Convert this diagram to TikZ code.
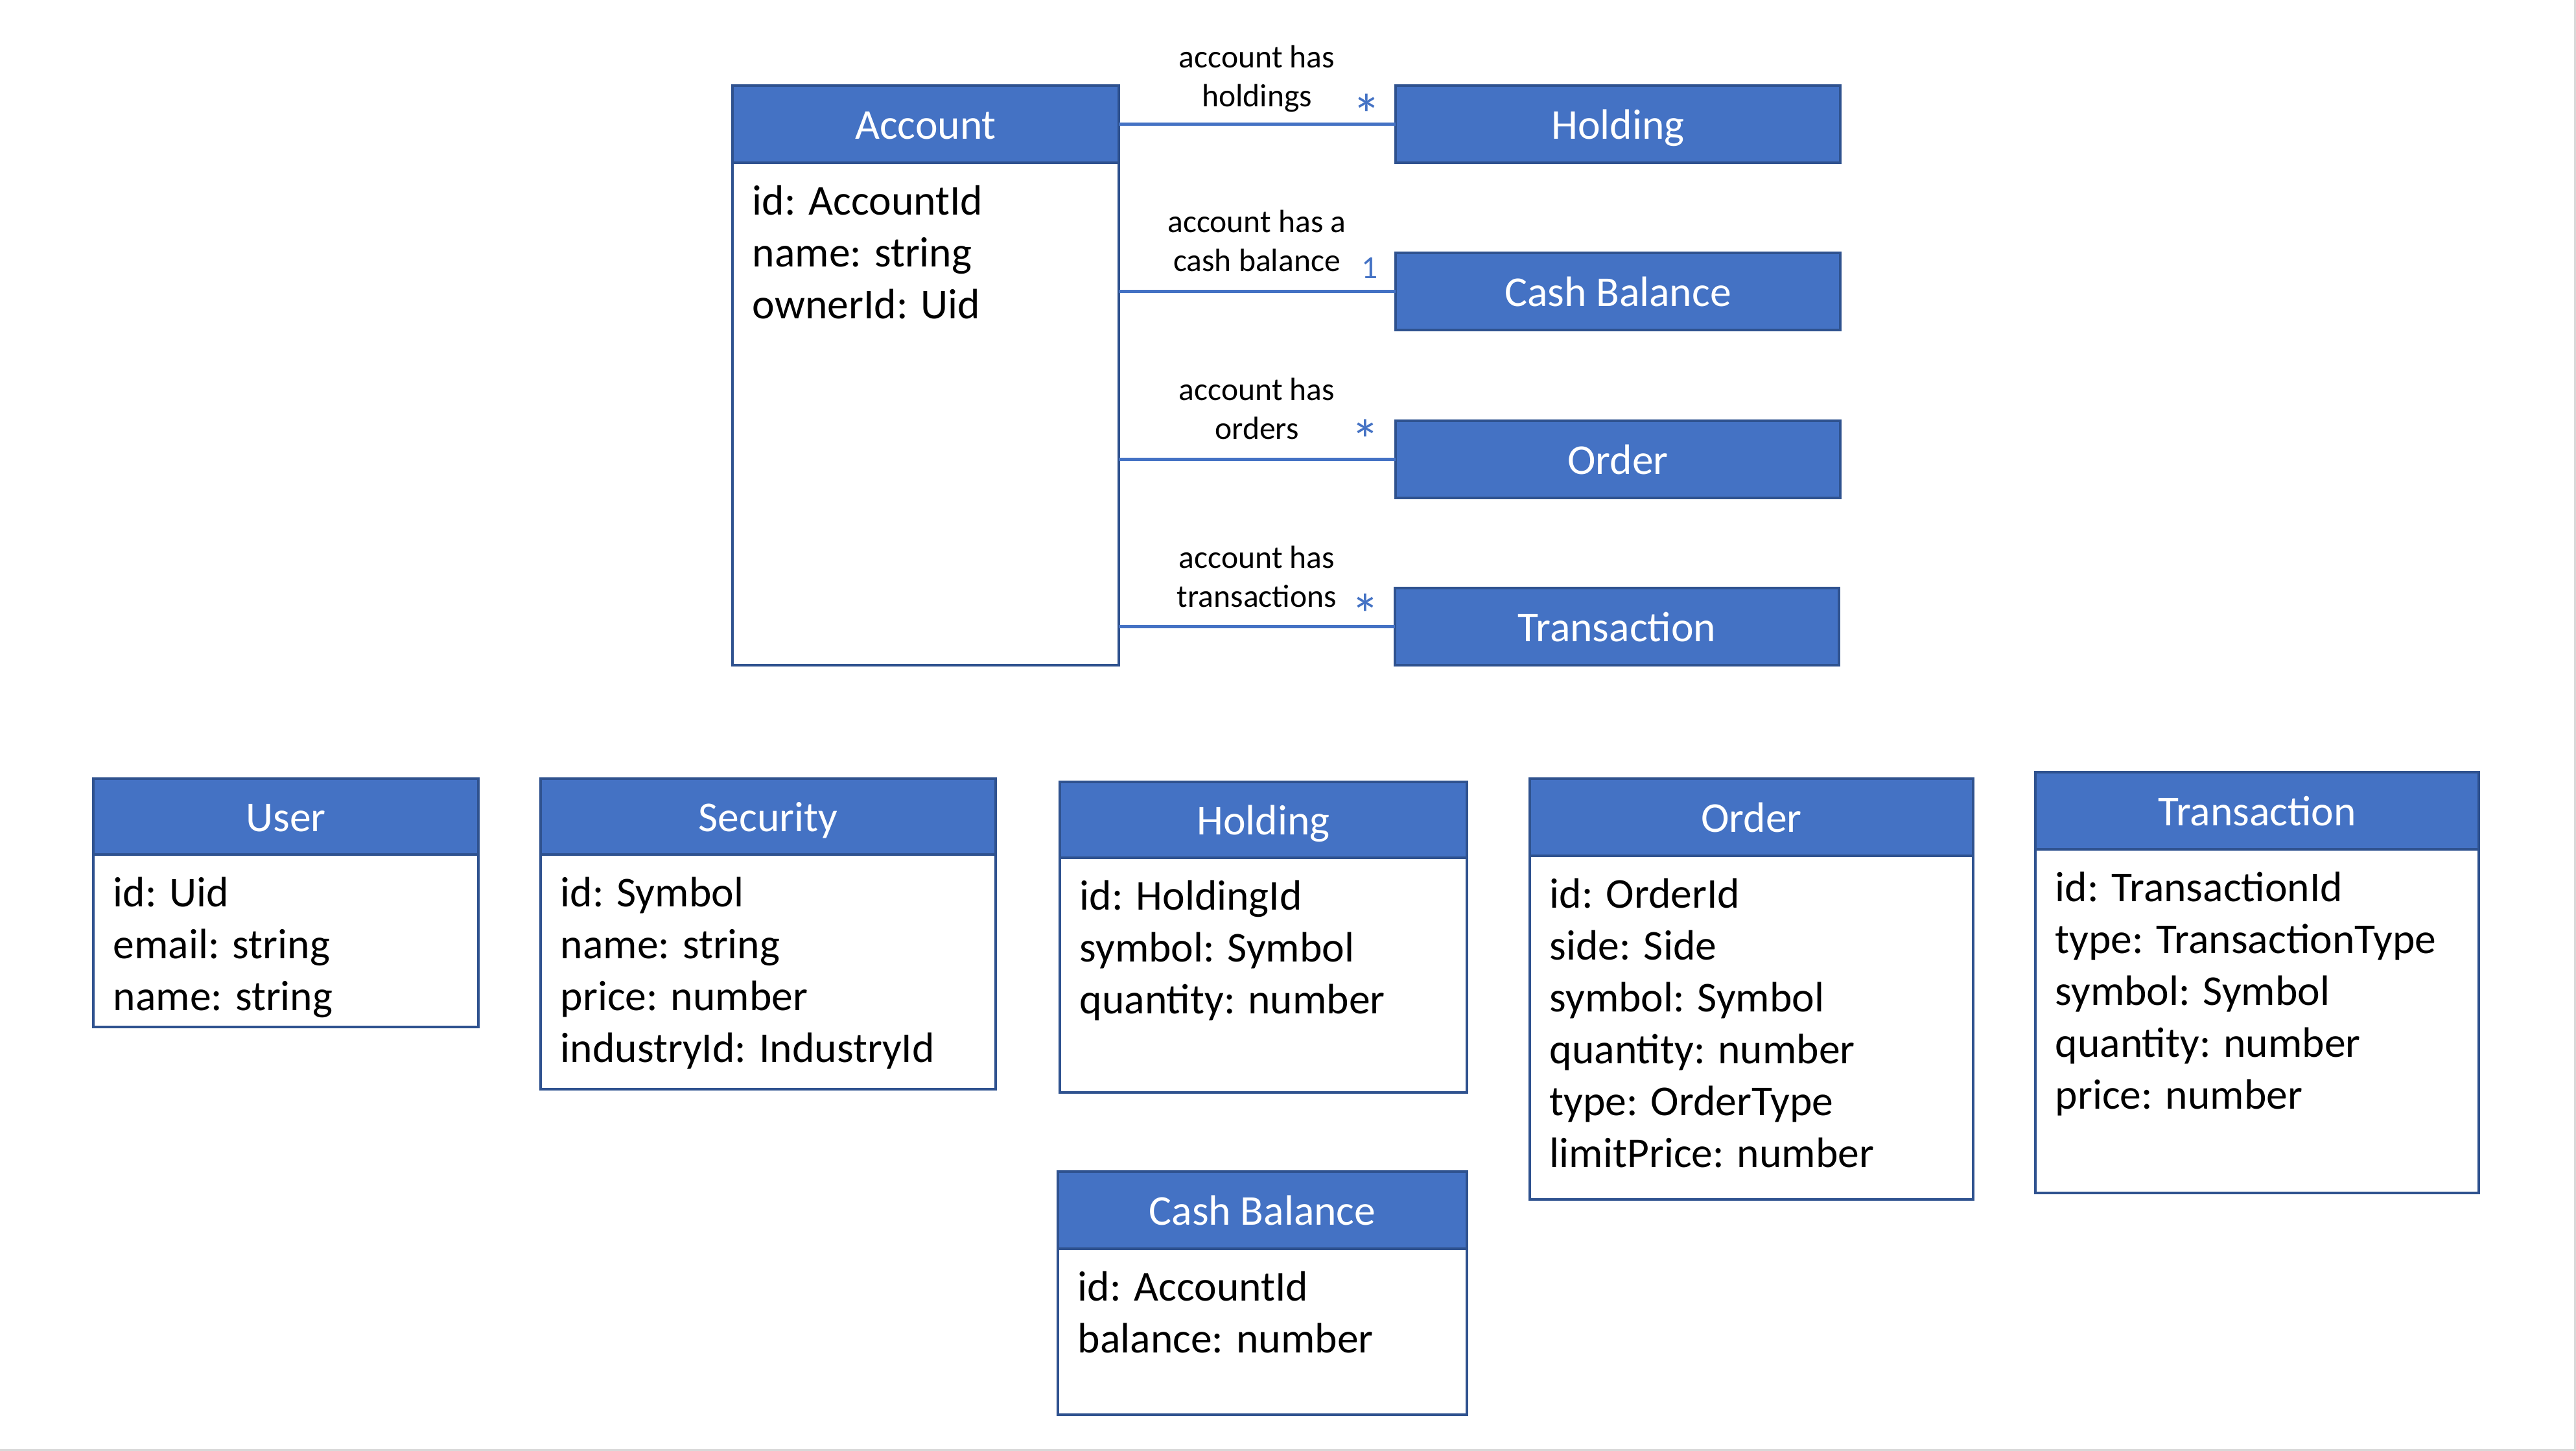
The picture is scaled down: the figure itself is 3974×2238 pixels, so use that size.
\documentclass[tikz,border=0pt]{standalone}
\usepackage{fontspec}
\setmainfont{Carlito}
\definecolor{hdrblue}{HTML}{4472C4}
\definecolor{edgeblue}{HTML}{2F528F}
\definecolor{framegray}{HTML}{D9D9D9}
\tikzset{
  hdrbox/.style={draw=edgeblue, fill=hdrblue, line width=0.9pt, text=white,
    font=\fontsize{16.4pt}{20pt}\selectfont, text height=11.4pt, text depth=0pt,
    inner sep=0pt, outer sep=0pt},
  bodybox/.style={draw=edgeblue, fill=white, line width=0.9pt, inner sep=0pt, outer sep=0pt},
  fieldtext/.style={align=left, inner sep=0pt, font=\fontsize{16.4pt}{20pt}\selectfont, anchor=north west},
  reltext/.style={align=center, inner sep=0pt, font=\fontsize{12.4pt}{15pt}\selectfont, anchor=north},
  multtext/.style={inner sep=0pt, text=hdrblue, font=\fontsize{12.4pt}{15pt}\selectfont, anchor=base},
  starmark/.style={inner sep=0pt, text=hdrblue, font=\fontsize{22pt}{26pt}\selectfont, anchor=base},
  assoc/.style={draw=hdrblue, line width=1.4pt},
}
\newcommand\classbox[8]{%
  \pgfmathsetmacro\cbw{(#3-#2)*0.25}%
  \pgfmathsetmacro\cbh{(#5-#4)*0.25}%
  \pgfmathsetmacro\cbb{(#6-#5)*0.25}%
  \node[bodybox, minimum width=\cbw pt, minimum height=\cbb pt, anchor=north west] (#1-b) at (#2,#5) {};%
  \node[hdrbox, minimum width=\cbw pt, minimum height=\cbh pt, anchor=north west] (#1) at (#2,#4) {#7};%
  \node[fieldtext] (#1-f) at (#2+30,#5+24) {\strut #8};%
}
\newcommand\headbox[6]{%
  \pgfmathsetmacro\cbw{(#3-#2)*0.25}%
  \pgfmathsetmacro\cbh{(#5-#4)*0.25}%
  \node[hdrbox, minimum width=\cbw pt, minimum height=\cbh pt, anchor=north west] (#1) at (#2,#4) {#6};%
}
\begin{document}
\begin{tikzpicture}[x={(0.25pt,0)}, y={(0,-0.25pt)}]
\useasboundingbox (0,0) rectangle (3974,2238);
\fill[framegray] (3971,0) rectangle (3974,2238);
\fill[framegray] (0,2235) rectangle (3974,2238);

% top part
\classbox{acc}{1130}{1726}{132}{251}{1026}{Account}{id: AccountId\\name: string\\ownerId: Uid}
\headbox{holdT}{2153}{2839}{132}{251}{Holding}
\headbox{cashT}{2153}{2839}{390}{509}{Cash Balance}
\headbox{ordT}{2153}{2839}{649}{768}{Order}
\headbox{txT}{2152}{2837}{907}{1026}{Transaction}

\draw[assoc] (acc-b.east |- holdT.west) -- (holdT.west);
\draw[assoc] (acc-b.east |- cashT.west) -- (cashT.west);
\draw[assoc] (acc-b.east |- ordT.west) -- (ordT.west);
\draw[assoc] (acc-b.east |- txT.west) -- (txT.west);

\node[reltext] (l1) at (1939,62) {\strut account has\\holdings};
\node[reltext] (l2) at (1939,316) {\strut account has a\\cash balance};
\node[reltext] (l3) at (1939,575) {\strut account has\\orders};
\node[reltext] (l4) at (1939,834) {\strut account has\\transactions};

\node[starmark] (m1) at (2108,207) {*};
\node[multtext] (m2) at (2113,429) {1};
\node[starmark] (m3) at (2106,709) {*};
\node[starmark] (m4) at (2106,978) {*};

% bottom part
\classbox{user}{144}{738}{1201}{1318}{1584}{User}{id: Uid\\email: string\\name: string}
\classbox{sec}{834}{1536}{1201}{1318}{1680}{Security}{id: Symbol\\name: string\\price: number\\industryId: IndustryId}
\classbox{hold}{1635}{2263}{1206}{1323}{1685}{Holding}{id: HoldingId\\symbol: Symbol\\quantity: number}
\classbox{cash}{1632}{2263}{1807}{1926}{2182}{Cash Balance}{id: AccountId\\balance: number}
\classbox{ord}{2360}{3044}{1201}{1320}{1850}{Order}{id: OrderId\\side: Side\\symbol: Symbol\\quantity: number\\type: OrderType\\limitPrice: number}
\classbox{tx}{3140}{3824}{1191}{1310}{1840}{Transaction}{id: TransactionId\\type: TransactionType\\symbol: Symbol\\quantity: number\\price: number}
\end{tikzpicture}
\end{document}
